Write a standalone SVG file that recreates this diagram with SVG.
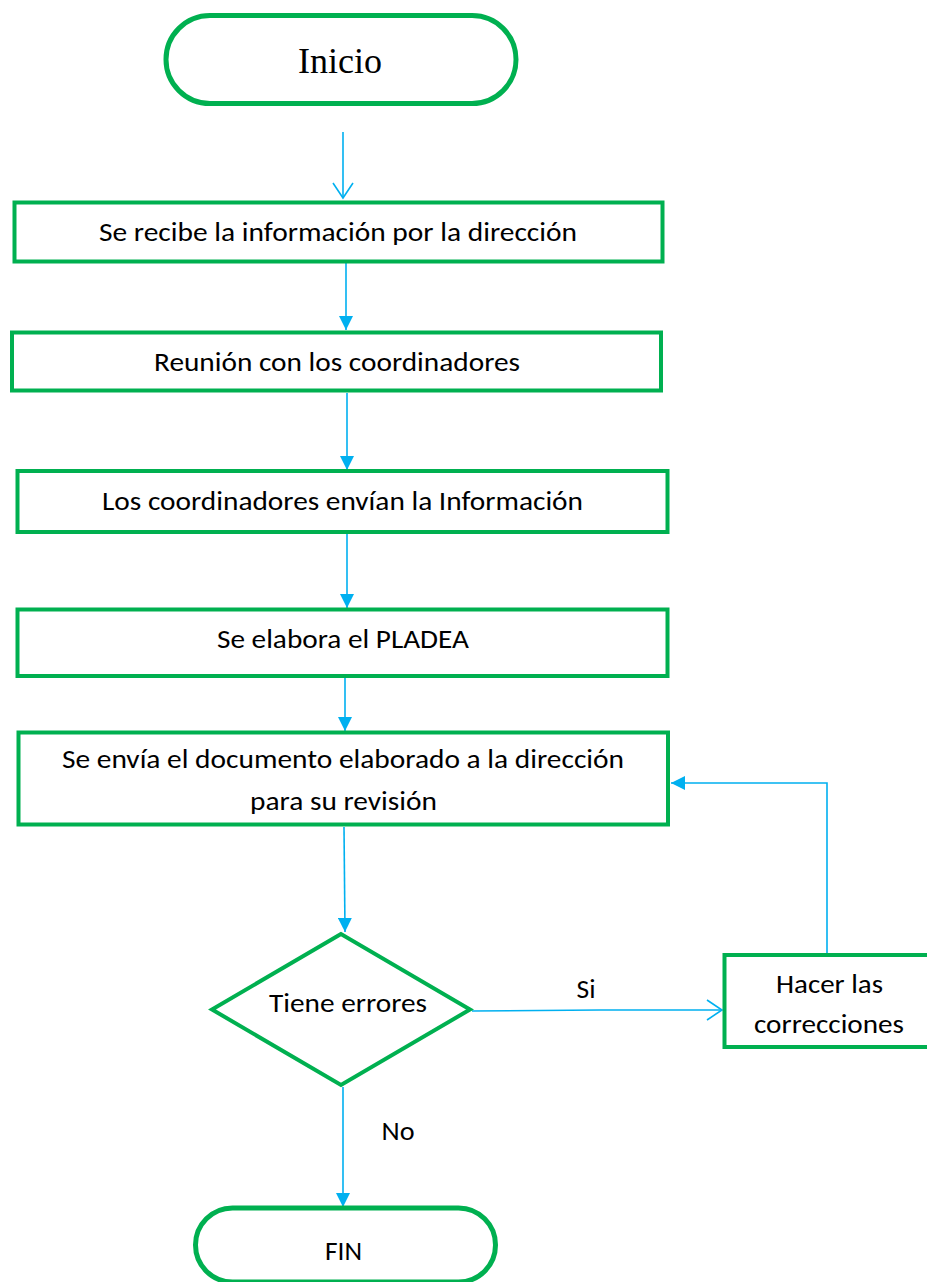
<svg xmlns="http://www.w3.org/2000/svg" width="927" height="1282" viewBox="0 0 927 1282">
<style>
.bg{fill:#ffffff}
.node{fill:#ffffff;stroke:#00B050;stroke-width:4}
.term{fill:#ffffff;stroke:#00B050;stroke-width:5}
.lbl{font-family:Carlito,Lato,"Liberation Sans",sans-serif;font-size:26px;fill:#000000;text-anchor:middle}
.title{font-family:"Liberation Serif","Times New Roman",serif;font-size:36px;fill:#000000;text-anchor:middle}
.conn{fill:none;stroke:#00B0F0;stroke-width:1.6}
</style>
<defs>
<marker id="solid" viewBox="0 0 14 14" refX="14" refY="7" markerWidth="14" markerHeight="14" markerUnits="userSpaceOnUse" orient="auto">
<path d="M0,0 L14,7 L0,14 Z" fill="#00B0F0"/>
</marker>
<marker id="open" viewBox="0 0 18 22" refX="16" refY="11" markerWidth="18" markerHeight="22" markerUnits="userSpaceOnUse" orient="auto">
<path d="M1,1 L16,11 L1,21" fill="none" stroke="#00B0F0" stroke-width="1.6"/>
</marker>
</defs>
<rect class="bg" x="0" y="0" width="927" height="1282"/>

<g id="connectors">
<line class="conn" x1="343" y1="132" x2="343" y2="198" marker-end="url(#open)"/>
<line class="conn" x1="346" y1="263" x2="346" y2="330" marker-end="url(#solid)"/>
<line class="conn" x1="347" y1="393" x2="347" y2="470" marker-end="url(#solid)"/>
<line class="conn" x1="347" y1="534" x2="347" y2="608" marker-end="url(#solid)"/>
<line class="conn" x1="345" y1="678" x2="345" y2="731" marker-end="url(#solid)"/>
<line class="conn" x1="344" y1="827" x2="345" y2="932" marker-end="url(#solid)"/>
<line class="conn" x1="343" y1="1087" x2="343" y2="1207" marker-end="url(#solid)"/>
<polyline class="conn" points="472,1011 600,1010 722,1010" marker-end="url(#open)"/>
<polyline class="conn" points="827,954 827,783 671,783" marker-end="url(#solid)"/>
<text class="lbl" x="586" y="998" textLength="19" lengthAdjust="spacingAndGlyphs">Si</text>
<text class="lbl" x="398" y="1140" textLength="33" lengthAdjust="spacingAndGlyphs">No</text>
</g>

<g id="inicio">
<rect class="term" x="166" y="15.5" width="350" height="88" rx="44" ry="44"/>
<text class="title" x="340" y="73">Inicio</text>
</g>

<g id="recibe">
<rect class="node" x="14.5" y="202.5" width="648" height="59"/>
<text class="lbl" x="338" y="241" textLength="478" lengthAdjust="spacingAndGlyphs">Se recibe la información por la dirección</text>
</g>

<g id="reunion">
<rect class="node" x="12" y="332.5" width="649" height="58"/>
<text class="lbl" x="337" y="371" textLength="366" lengthAdjust="spacingAndGlyphs">Reunión con los coordinadores</text>
</g>

<g id="envian">
<rect class="node" x="17.5" y="471" width="650" height="61"/>
<text class="lbl" x="342.5" y="510" textLength="481" lengthAdjust="spacingAndGlyphs">Los coordinadores envían la Información</text>
</g>

<g id="pladea">
<rect class="node" x="17.5" y="609.5" width="650" height="66.5"/>
<text class="lbl" x="343" y="648" textLength="252" lengthAdjust="spacingAndGlyphs">Se elabora el PLADEA</text>
</g>

<g id="envia">
<rect class="node" x="18.5" y="732.5" width="649.5" height="92"/>
<text class="lbl" x="343" y="768" textLength="562" lengthAdjust="spacingAndGlyphs">Se envía el documento elaborado a la dirección</text>
<text class="lbl" x="343.5" y="810" textLength="187" lengthAdjust="spacingAndGlyphs">para su revisión</text>
</g>

<g id="errores">
<polygon class="node" points="341,934 212,1009.5 341,1085 470,1009.5"/>
<text class="lbl" x="348" y="1012" textLength="158" lengthAdjust="spacingAndGlyphs">Tiene errores</text>
</g>

<g id="correcciones">
<rect class="node" x="724.5" y="955" width="210" height="92"/>
<text class="lbl" x="829.5" y="993" textLength="107" lengthAdjust="spacingAndGlyphs">Hacer las</text>
<text class="lbl" x="829" y="1033" textLength="150" lengthAdjust="spacingAndGlyphs">correcciones</text>
</g>

<g id="fin">
<rect class="term" x="195.5" y="1208" width="300" height="74" rx="37" ry="37"/>
<text class="lbl" x="343.5" y="1260" textLength="37" lengthAdjust="spacingAndGlyphs">FIN</text>
</g>
</svg>
